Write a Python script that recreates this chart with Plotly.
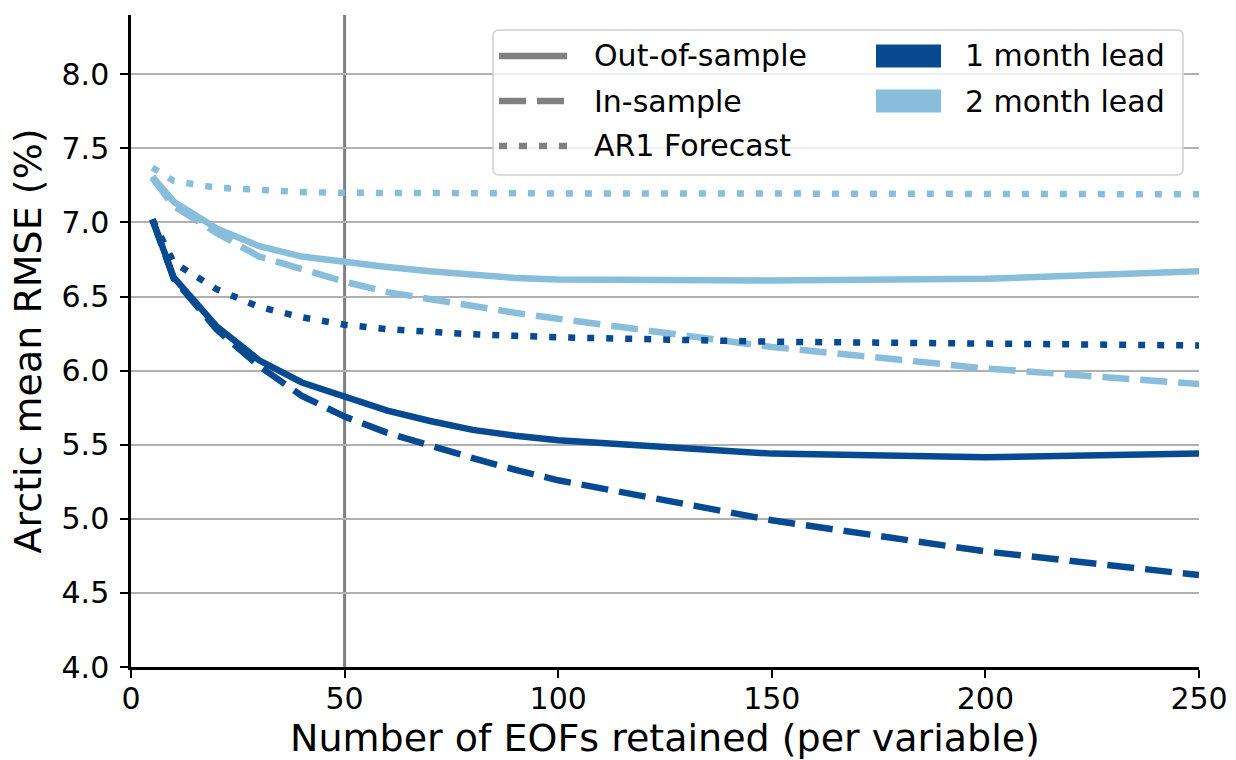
import plotly.graph_objects as go

# Number of EOFs retained per variable
n_eofs = [5, 10, 20, 30, 40, 50, 60, 70, 80, 90, 100, 150, 200, 250]

# Arctic mean RMSE (%) - 1 month lead
oos_1m = [7.02, 6.63, 6.30, 6.07, 5.92, 5.82, 5.73, 5.66, 5.60, 5.56, 5.53, 5.44, 5.415, 5.44]
ins_1m = [7.02, 6.62, 6.28, 6.03, 5.83, 5.69, 5.58, 5.49, 5.41, 5.33, 5.26, 4.99, 4.78, 4.62]
ar1_1m = [7.02, 6.73, 6.55, 6.43, 6.36, 6.31, 6.28, 6.26, 6.245, 6.235, 6.225, 6.195, 6.18, 6.17]

# Arctic mean RMSE (%) - 2 month lead
oos_2m = [7.31, 7.14, 6.96, 6.84, 6.77, 6.73, 6.70, 6.67, 6.645, 6.625, 6.615, 6.608, 6.62, 6.67]
ins_2m = [7.30, 7.11, 6.93, 6.77, 6.685, 6.60, 6.53, 6.48, 6.43, 6.39, 6.35, 6.16, 6.015, 5.91]
ar1_2m = [7.37, 7.28, 7.235, 7.215, 7.205, 7.20, 7.198, 7.197, 7.197, 7.196, 7.196, 7.195, 7.193, 7.19]

cutoff_eofs = 50

x_ticks = [0, 50, 100, 150, 200, 250]
y_ticks = [4.0, 4.5, 5.0, 5.5, 6.0, 6.5, 7.0, 7.5, 8.0]

method_labels = ["Out-of-sample", "In-sample", "AR1 Forecast"]
lead_labels = ["1 month lead", "2 month lead"]

DARK = "#084a91"
LIGHT = "#88bddc"
GREY = "#808080"
FONT = "DejaVu Sans"

W, H = 1236, 760
ML, MR, MT, MB = 131, 37, 15, 93
PW, PH = W - ML - MR, H - MT - MB

LW = 6.5
DASHED = "27px,11px"
DOTTED = "7px,12px"
styles = ["solid", DASHED, DOTTED]
legend_styles = ["solid", DASHED, "8px,12px"]


def px(xp):
    return (xp - ML) / PW


def py(yp):
    return (H - MB - yp) / PH


fig = go.Figure()

series = [
    (oos_1m, DARK, "solid"), (ins_1m, DARK, DASHED), (ar1_1m, DARK, DOTTED),
    (oos_2m, LIGHT, "solid"), (ins_2m, LIGHT, DASHED), (ar1_2m, LIGHT, DOTTED),
]
# 2 month lead lines first, 1 month lead lines on top
for vals, col, dash in series[3:] + series[:3]:
    fig.add_trace(go.Scatter(
        x=n_eofs, y=vals, mode="lines",
        line=dict(color=col, width=LW, dash=dash),
        showlegend=False, hoverinfo="skip",
    ))

shapes = []
# vertical line marking the chosen truncation
shapes.append(dict(type="line", xref="x", yref="paper", x0=cutoff_eofs, x1=cutoff_eofs,
                   y0=0, y1=1, line=dict(color=GREY, width=3), layer="below"))

# legend frame (rounded)
lx0, lx1, ly0, ly1, r = 493, 1183, 30, 175, 6
path = (
    f"M {px(lx0 + r)},{py(ly0)} L {px(lx1 - r)},{py(ly0)} "
    f"Q {px(lx1)},{py(ly0)} {px(lx1)},{py(ly0 + r)} "
    f"L {px(lx1)},{py(ly1 - r)} Q {px(lx1)},{py(ly1)} {px(lx1 - r)},{py(ly1)} "
    f"L {px(lx0 + r)},{py(ly1)} Q {px(lx0)},{py(ly1)} {px(lx0)},{py(ly1 - r)} "
    f"L {px(lx0)},{py(ly0 + r)} Q {px(lx0)},{py(ly0)} {px(lx0 + r)},{py(ly0)} Z"
)
shapes.append(dict(type="path", xref="paper", yref="paper", path=path,
                   fillcolor="rgba(255,255,255,0.8)", line=dict(color="#d0d0d0", width=1.5)))

annotations = []
row_y = [56, 101, 146]
for i, (lab, dash) in enumerate(zip(method_labels, legend_styles)):
    yy = py(row_y[i])
    shapes.append(dict(type="line", xref="paper", yref="paper", x0=px(499), x1=px(567),
                       y0=yy, y1=yy, line=dict(color=GREY, width=LW, dash=dash)))
    annotations.append(dict(xref="paper", yref="paper", x=px(592), y=yy, text=lab,
                            showarrow=False, xanchor="left", yanchor="middle",
                            font=dict(family=FONT, size=30, color="black")))
for i, (lab, col) in enumerate(zip(lead_labels, [DARK, LIGHT])):
    yc = row_y[i]
    shapes.append(dict(type="rect", xref="paper", yref="paper", x0=px(876), x1=px(941),
                       y0=py(yc - 11.5), y1=py(yc + 11.5), fillcolor=col, line=dict(width=0)))
    annotations.append(dict(xref="paper", yref="paper", x=px(963), y=py(yc), text=lab,
                            showarrow=False, xanchor="left", yanchor="middle",
                            font=dict(family=FONT, size=30, color="black")))

fig.update_layout(
    width=W, height=H,
    margin=dict(l=ML, r=MR, t=MT, b=MB, autoexpand=False),
    paper_bgcolor="white", plot_bgcolor="white",
    font=dict(family=FONT, color="black"),
    shapes=shapes, annotations=annotations,
    showlegend=False,
)
fig.update_xaxes(
    range=[0, 250], tickvals=x_ticks, ticks="outside", ticklen=8, tickwidth=2,
    tickcolor="black", showline=True, linecolor="black", linewidth=2.5,
    showgrid=False, zeroline=False, tickfont=dict(size=30), ticklabelstandoff=-5,
    title=dict(text="Number of EOFs retained (per variable)", font=dict(size=38), standoff=14),
)
fig.update_yaxes(
    range=[4.0, 8.4], tickvals=y_ticks, ticktext=[f"{v:.1f}" for v in y_ticks],
    ticks="outside", ticklen=8, tickwidth=2, tickcolor="black",
    showline=True, linecolor="black", linewidth=2.5,
    showgrid=True, gridcolor="#b0b0b0", gridwidth=2, zeroline=False,
    tickfont=dict(size=30), ticklabelstandoff=5,
    title=dict(text="Arctic mean RMSE (%)", font=dict(size=38), standoff=9),
)

fig.write_html("out.html")
